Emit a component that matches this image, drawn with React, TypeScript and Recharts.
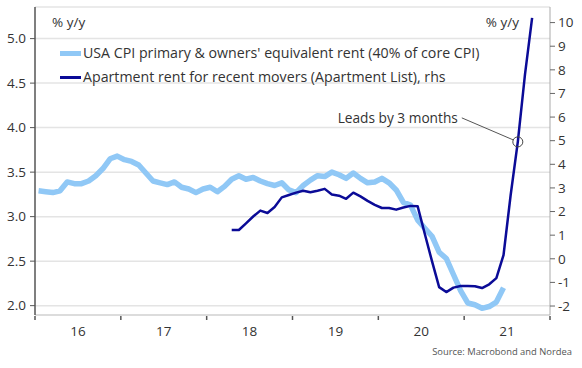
import React from 'react';
import { LineChart, Line, XAxis, YAxis, CartesianGrid, Legend, ReferenceDot } from 'recharts';

// month 0 = Jan 2016, points sit mid-month
const cpiStartMonth = 0;
const cpiRent = [
  3.29, 3.28, 3.27, 3.29, 3.39, 3.37, 3.37, 3.4, 3.46, 3.54, 3.65, 3.68,
  3.64, 3.62, 3.58, 3.49, 3.4, 3.38, 3.36, 3.39, 3.33, 3.31, 3.27, 3.31,
  3.33, 3.28, 3.34, 3.42, 3.46, 3.42, 3.44, 3.4, 3.37, 3.35, 3.38, 3.3,
  3.27, 3.35, 3.41, 3.46, 3.45, 3.5, 3.47, 3.43, 3.49, 3.43, 3.38, 3.39,
  3.43, 3.38, 3.3, 3.16, 3.13, 2.96, 2.87, 2.78, 2.6, 2.53, 2.35, 2.17,
  2.03, 2.01, 1.97, 1.99, 2.04, 2.2
];

// shifted forward 3 months, starts Apr 2018
const aptStartMonth = 27;
const aptRent = [
  1.22, 1.22, 1.5, 1.79, 2.04, 1.94, 2.19, 2.6, 2.7, 2.8, 2.88, 2.82,
  2.88, 2.96, 2.72, 2.67, 2.54, 2.8, 2.64, 2.45, 2.28, 2.15, 2.15, 2.08,
  2.17, 2.24, 2.22, 1.05, -0.1, -1.2, -1.41, -1.22, -1.15, -1.15, -1.16, -1.24,
  -1.08, -0.82, 0.15, 2.7, 4.95, 7.8, 10.2
];

const leadMonth = 67;

const yearLabels = ['16', '17', '18', '19', '20', '21'];
const xTicks = [0, 6, 12, 18, 24, 30, 36, 42, 48, 54, 60, 66, 72];
const leftTicks = [2.0, 2.5, 3.0, 3.5, 4.0, 4.5, 5.0];
const rightTicks = [-2, -1, 0, 1, 2, 3, 4, 5, 6, 7, 8, 9, 10];

const cpiName = "USA CPI primary & owners' equivalent rent (40% of core CPI)";
const aptName = 'Apartment rent for recent movers (Apartment List), rhs';

const colors = {
  cpi: '#90C8F6',
  apt: '#0B0B97',
  text: '#333333',
  grid: '#e4e4e4'
};

const font = '"Open Sans", sans-serif';

const totalMonths = Math.max(cpiStartMonth + cpiRent.length, aptStartMonth + aptRent.length);
const data = Array.from({ length: totalMonths }, (_, m) => ({
  x: m + 0.5,
  cpi: m >= cpiStartMonth && m < cpiStartMonth + cpiRent.length ? cpiRent[m - cpiStartMonth] : null,
  apt: m >= aptStartMonth && m < aptStartMonth + aptRent.length ? aptRent[m - aptStartMonth] : null
}));

function YearTick(props: any) {
  const { x, y, payload } = props;
  const v = payload.value as number;
  if (v % 12 === 0) {
    return <line x1={x} x2={x} y1={y + 1} y2={y + 5} stroke="#555" strokeWidth={1.5} />;
  }
  return (
    <text x={x} y={y + 21} textAnchor="middle" fill={colors.text} fontSize={13.5} fontFamily={font}>
      {yearLabels[(v - 6) / 12]}
    </text>
  );
}

function LeadsMarker(props: any) {
  const { cx, cy } = props;
  const r = 5;
  const sx = cx - 56;
  const sy = cy - 24;
  const dx = cx - sx;
  const dy = cy - sy;
  const len = Math.hypot(dx, dy);
  return (
    <g>
      <line x1={sx} y1={sy} x2={cx - (r * dx) / len} y2={cy - (r * dy) / len} stroke="#555" strokeWidth={1} />
      <circle cx={cx} cy={cy} r={r} fill="none" stroke="#444" strokeWidth={1} />
      <text x={sx - 4} y={sy} dy="0.35em" textAnchor="end" fontSize={13.7} fill={colors.text} fontFamily={font}>
        Leads by 3 months
      </text>
    </g>
  );
}

const legendRows = [
  { name: cpiName, color: colors.cpi, h: 5 },
  { name: aptName, color: colors.apt, h: 3 }
];

function renderLegend() {
  return (
    <div style={{ fontFamily: font, fontSize: 14.2, color: colors.text, lineHeight: '24px' }}>
      {legendRows.map((row) => (
        <div key={row.name} style={{ display: 'flex', alignItems: 'center', whiteSpace: 'nowrap' }}>
          <span style={{ display: 'inline-block', width: 21, height: row.h, background: row.color, marginRight: 2 }} />
          {row.name}
        </div>
      ))}
    </div>
  );
}

export default function App() {
  return (
    <div style={{ position: 'absolute', left: 0, top: 0, width: 582, height: 368, background: '#fff' }}>
      <LineChart width={582} height={368} data={data} margin={{ top: 7, right: 0, bottom: 0, left: 0 }}>
        <CartesianGrid yAxisId="left" vertical={false} stroke={colors.grid} strokeWidth={1.5} />
        <XAxis
          dataKey="x"
          type="number"
          domain={[0, 72]}
          ticks={xTicks}
          interval={0}
          height={53}
          tickSize={0}
          tickMargin={0}
          tickLine={false}
          axisLine={{ stroke: '#dcdcdc', strokeWidth: 2 }}
          tick={<YearTick />}
        />
        <YAxis
          yAxisId="left"
          width={35}
          domain={[1.895, 5.355]}
          allowDataOverflow
          ticks={leftTicks}
          interval={0}
          tickFormatter={(v: number) => v.toFixed(1)}
          tickSize={5}
          tickMargin={4}
          tickLine={{ stroke: '#555' }}
          axisLine={{ stroke: '#555', strokeWidth: 1.5 }}
          tick={{ fill: colors.text, fontSize: 13.5, fontFamily: font }}
        />
        <YAxis
          yAxisId="right"
          orientation="right"
          width={32}
          domain={[-2.38, 10.66]}
          allowDataOverflow
          ticks={rightTicks}
          interval={0}
          tickSize={5}
          tickMargin={3}
          tickLine={{ stroke: '#666' }}
          axisLine={{ stroke: '#aaa' }}
          tick={{ fill: colors.text, fontSize: 13.5, fontFamily: font }}
        />
        <Legend
          layout="horizontal"
          verticalAlign="middle"
          align="center"
          wrapperStyle={{ top: 41, left: 60, width: 470 }}
          content={renderLegend}
        />
        <Line
          yAxisId="left"
          dataKey="cpi"
          name={cpiName}
          stroke={colors.cpi}
          strokeWidth={5.5}
          strokeLinejoin="round"
          dot={false}
          activeDot={false}
          isAnimationActive={false}
        />
        <Line
          yAxisId="right"
          dataKey="apt"
          name={aptName}
          stroke={colors.apt}
          strokeWidth={2.5}
          strokeLinejoin="round"
          dot={false}
          activeDot={false}
          isAnimationActive={false}
        />
        <ReferenceDot
          yAxisId="right"
          x={leadMonth + 0.5}
          y={aptRent[leadMonth - aptStartMonth]}
          r={5}
          shape={<LeadsMarker />}
        />
        <text x={52} y={22} dy="0.35em" fontSize={13.5} fill={colors.text} fontFamily={font}>
          % y/y
        </text>
        <text x={519} y={22} dy="0.35em" textAnchor="end" fontSize={13.5} fill={colors.text} fontFamily={font}>
          % y/y
        </text>
        <text x={572} y={352} dy="0.35em" textAnchor="end" fontSize={9.4} fill="#555" fontFamily={font}>
          Source: Macrobond and Nordea
        </text>
      </LineChart>
    </div>
  );
}
